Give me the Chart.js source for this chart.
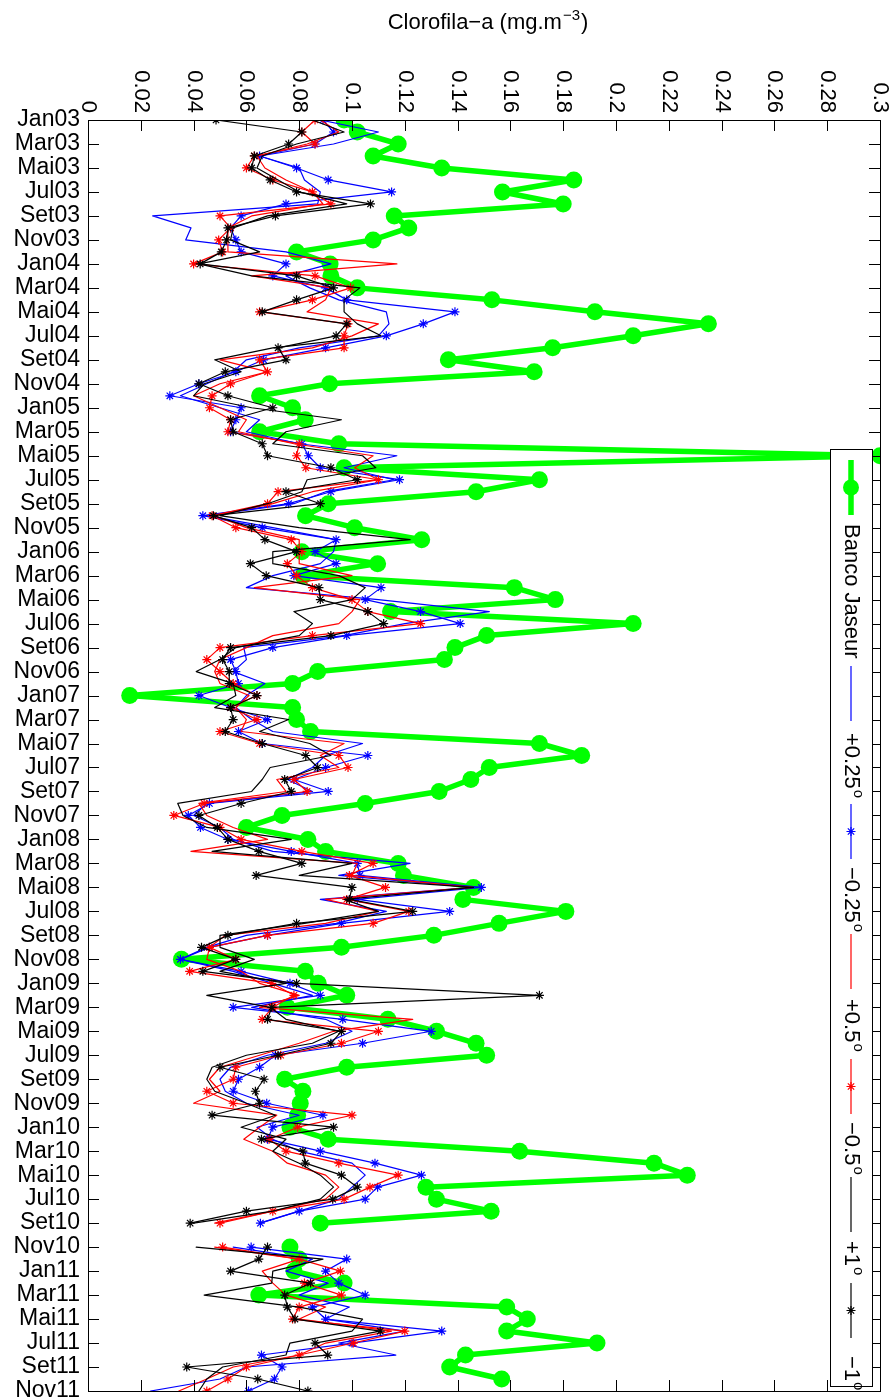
<!DOCTYPE html>
<html><head><meta charset="utf-8">
<script src="https://cdn.jsdelivr.net/npm/chart.js@4/dist/chart.umd.min.js"></script>
<style>html,body{margin:0;padding:0;background:#fff}#wrap{width:892px;height:1400px;position:relative}</style>
</head><body><div id="wrap"><canvas id="c" width="892" height="1400"></canvas></div>
<script>
const monthAbbr = ['Jan','Fev','Mar','Abr','Mai','Jun','Jul','Ago','Set','Out','Nov','Dez'];
const yearCodes = ['03','04','05','06','07','08','09','10','11'];
const categories = [];
yearCodes.forEach(y => monthAbbr.forEach(m => categories.push(m + y)));
categories.length = 107; // Jan03 .. Nov11

const xTickValues = [0,0.02,0.04,0.06,0.08,0.1,0.12,0.14,0.16,0.18,0.2,0.22,0.24,0.26,0.28,0.3];
const xTickLabels = ['0','0.02','0.04','0.06','0.08','0.1','0.12','0.14','0.16','0.18','0.2','0.22','0.24','0.26','0.28','0.3'];

const bancoJaseur = [0.097,0.102,0.1175,0.108,0.134,0.184,0.157,0.180,0.116,0.1215,0.108,0.079,0.0917,0.092,0.102,0.153,0.192,0.235,0.2065,0.176,0.1365,0.169,0.0915,0.065,0.0775,0.0823,0.065,0.095,0.300,0.097,0.171,0.147,0.091,0.0824,0.101,0.1264,0.081,0.1097,0.0814,0.1615,0.177,0.1146,0.2065,0.151,0.139,0.135,0.087,0.0775,0.0158,0.0775,0.079,0.0843,0.171,0.187,0.152,0.145,0.133,0.105,0.0735,0.06,0.0833,0.090,0.1175,0.1195,0.146,0.142,0.181,0.1557,0.131,0.096,0.0354,0.0823,0.0872,0.098,0.0755,0.1136,0.132,0.147,0.151,0.098,0.0745,0.0814,0.0804,0.0794,0.0765,0.091,0.1635,0.2144,0.227,0.128,0.132,0.1527,0.088,null,0.0765,0.080,0.078,0.097,0.0647,0.1586,0.1664,0.1586,0.1928,0.143,0.137,0.1567,null];

const plus025 = [0.088,0.110,0.093,0.065,0.080,0.082,0.088,0.087,0.0245,0.039,0.037,0.075,0.092,0.075,0.084,0.095,0.113,0.114,0.11,0.08,0.06,0.055,0.045,0.035,0.05,0.065,0.06,0.08,0.117,0.097,0.116,0.09,0.078,0.045,0.07,0.094,0.093,0.088,0.07,0.06,0.11,0.152,0.12,0.097,0.059,0.06,0.055,0.067,0.06,0.056,0.062,0.07,0.104,0.09,0.085,0.0755,0.085,0.045,0.04,0.05,0.055,0.07,0.122,0.095,0.146,0.088,0.113,0.094,0.06,0.045,0.035,0.055,0.07,0.085,0.062,0.09,0.1,0.09,0.068,0.054,0.05,0.052,0.06,0.08,0.064,0.07,0.08,0.1,0.105,0.1,0.095,0.08,0.065,null,0.055,0.085,0.075,0.091,0.08,0.099,0.09,0.12,0.095,0.1166,0.06,0.05,0.0237];
const minus025 = [0.089,0.093,0.086,0.065,0.079,0.091,0.115,0.075,0.058,0.054,0.056,0.058,0.075,0.07,0.090,0.098,0.139,0.127,0.113,0.09,0.0665,0.056,0.042,0.031,0.058,0.056,0.054,0.081,0.0835,0.088,0.118,0.092,0.076,0.0435,0.066,0.094,0.086,0.094,0.078,0.111,0.105,0.126,0.141,0.098,0.07,0.054,0.056,0.057,0.042,0.054,0.068,0.057,0.066,0.106,0.09,0.078,0.091,0.046,0.038,0.0426,0.053,0.077,0.102,0.103,0.149,0.102,0.137,0.096,0.068,0.046,0.035,0.058,0.0765,0.088,0.055,0.0965,0.13,0.104,0.071,0.065,0.057,0.055,0.0677,0.089,0.07,0.068,0.088,0.1087,0.1263,0.1097,0.105,0.08,0.0653,null,0.0618,0.098,0.09,0.095,0.105,0.085,0.09,0.134,0.1,0.0657,0.0735,0.0706,0.0608];
const plus05 = [0.088,0.095,0.083,0.064,0.067,0.075,0.085,0.089,0.062,0.053,0.053,0.053,0.117,0.062,0.092,0.09,0.083,0.110,0.1,0.085,0.05,0.068,0.05,0.04,0.05,0.06,0.057,0.078,0.108,0.101,0.11,0.085,0.07,0.048,0.06,0.08,0.08,0.08,0.1,0.063,0.103,0.1,0.095,0.07,0.06,0.05,0.048,0.05,0.061,0.056,0.06,0.058,0.097,0.088,0.095,0.0715,0.075,0.042,0.045,0.055,0.068,0.039,0.102,0.1,0.146,0.09,0.11,0.09,0.052,0.046,0.045,0.058,0.065,0.08,0.065,0.123,0.093,0.08,0.065,0.05,0.046,0.05,0.04,0.0715,0.065,0.059,0.07,0.0755,0.09,0.095,0.09,0.07,0.048,null,0.048,0.08,0.066,0.07,0.075,0.09,0.08,0.115,0.09,0.08,0.055,0.045,0.0344];
const minus05 = [0.086,0.081,0.086,0.063,0.060,0.070,0.085,0.092,0.050,0.054,0.0495,0.051,0.040,0.086,0.0995,0.085,0.065,0.0985,0.097,0.097,0.065,0.068,0.054,0.047,0.046,0.054,0.053,0.080,0.079,0.0825,0.11,0.072,0.068,0.047,0.056,0.077,0.081,0.0755,0.079,0.085,0.10,0.106,0.126,0.085,0.05,0.045,0.050,0.055,0.064,0.054,0.064,0.050,0.065,0.095,0.0985,0.078,0.083,0.044,0.0325,0.05,0.058,0.081,0.108,0.099,0.1127,0.098,0.1215,0.108,0.068,0.046,0.056,0.0385,0.0696,0.078,0.07,0.066,0.11,0.096,0.073,0.056,0.055,0.045,0.055,0.10,0.0794,0.0686,0.075,0.095,0.1175,0.1068,0.097,0.07,0.050,null,0.051,0.08,0.0956,0.082,0.096,0.080,0.0775,0.120,0.1005,0.08,0.06,0.053,0.045];
const plus1 = [0.085,0.097,0.079,0.066,0.064,0.072,0.080,0.098,0.068,0.055,0.054,0.065,0.042,0.062,0.103,0.097,0.097,0.102,0.111,0.07,0.048,0.058,0.044,0.04,0.062,0.096,0.075,0.07,0.104,0.109,0.083,0.081,0.068,0.05,0.08,0.122,0.07,0.07,0.095,0.105,0.1,0.078,0.085,0.08,0.056,0.05,0.041,0.055,0.056,0.048,0.076,0.065,0.084,0.092,0.069,0.066,0.062,0.034,0.036,0.045,0.077,0.047,0.1,0.080,0.146,0.097,0.11,0.082,0.05,0.05,0.063,0.05,0.075,0.045,0.069,0.075,0.095,0.085,0.06,0.047,0.045,0.048,0.06,0.071,0.058,0.075,0.07,0.08,0.088,0.093,0.088,0.07,0.04,null,0.041,0.089,0.07,0.0696,0.044,0.08,0.104,0.1,0.0765,0.075,0.051,0.045,0.042];
const minus1 = [0.0485,0.081,0.076,0.063,0.062,0.069,0.079,0.107,0.071,0.053,0.0525,0.0505,0.0425,0.079,0.093,0.079,0.066,0.098,0.094,0.072,0.075,0.052,0.042,0.053,0.07,0.054,0.055,0.066,0.068,0.092,0.102,0.075,0.088,0.0475,0.062,0.067,0.079,0.0615,0.0675,0.0875,0.088,0.106,0.112,0.092,0.054,0.051,0.0535,0.0535,0.064,0.054,0.055,0.052,0.066,0.0825,0.087,0.0745,0.077,0.058,0.042,0.049,0.053,0.0647,0.081,0.0637,0.10,0.099,0.123,0.079,0.053,0.043,0.056,0.0435,0.079,0.171,0.0696,0.068,0.096,0.092,0.072,0.05,0.0667,0.0634,0.065,0.047,0.093,0.0657,0.0814,0.0823,0.096,0.102,0.0927,0.060,0.0387,null,0.068,0.0647,0.054,0.0843,0.0745,0.0755,0.0784,0.1107,0.086,0.0908,0.0374,0.0643,0.0833];

const FONT = '"Liberation Sans", Arial, Helvetica, sans-serif';
const FS = 22;
const pts = arr => arr.map((v, i) => ({ x: v, y: i }));

function lineDs(label, arr, color, star, order) {
  return {
    label, data: pts(arr), borderColor: color, backgroundColor: color,
    borderWidth: 1.2, tension: 0, spanGaps: false, order,
    borderJoinStyle: 'round', borderCapStyle: 'round',
    pointStyle: star ? 'star' : 'circle',
    pointRadius: star ? 4.5 : 0, pointBorderWidth: 1.2,
    pointBorderColor: color, pointBackgroundColor: color
  };
}

const legendItems = [
  { text: 'Banco Jaseur', sup: '', color: '#00ff00', kind: 'green' },
  { text: '+0.25', sup: 'o', color: '#0000ff', kind: 'line' },
  { text: '\u22120.25', sup: 'o', color: '#0000ff', kind: 'star' },
  { text: '+0.5', sup: 'o', color: '#ff0000', kind: 'line' },
  { text: '\u22120.5', sup: 'o', color: '#ff0000', kind: 'star' },
  { text: '+1', sup: 'o', color: '#000000', kind: 'line' },
  { text: '\u22121', sup: 'o', color: '#000000', kind: 'star' }
];
const legendSampleStart = [460, 666, 804, 934, 1059, 1177, 1283];
const legendTextStart = [524, 733, 867, 999, 1122, 1241, 1356];

function drawStar(ctx, x, y, r) {
  ctx.beginPath();
  for (let k = 0; k < 4; k++) {
    const a = k * Math.PI / 4;
    ctx.moveTo(x - r * Math.cos(a), y - r * Math.sin(a));
    ctx.lineTo(x + r * Math.cos(a), y + r * Math.sin(a));
  }
  ctx.stroke();
}

const decor = {
  id: 'decor',
  afterDatasetsDraw(chart) {
    const ctx = chart.ctx, a = chart.chartArea;
    const xs = chart.scales.x, ys = chart.scales.y;
    ctx.save();
    ctx.strokeStyle = '#000'; ctx.lineWidth = 1;
    ctx.strokeRect(Math.round(a.left) + 0.5, Math.round(a.top) + 0.5, Math.round(a.right - a.left), Math.round(a.bottom - a.top));
    const TL = 11;
    ctx.beginPath();
    xTickValues.forEach(v => {
      const px = Math.round(xs.getPixelForValue(v)) + 0.5;
      ctx.moveTo(px, a.top); ctx.lineTo(px, a.top + TL);
      ctx.moveTo(px, a.bottom); ctx.lineTo(px, a.bottom - TL);
    });
    for (let i = 0; i < categories.length; i += 2) {
      const py = Math.round(ys.getPixelForValue(i)) + 0.5;
      ctx.moveTo(a.left, py); ctx.lineTo(a.left + TL, py);
      ctx.moveTo(a.right, py); ctx.lineTo(a.right - TL, py);
    }
    ctx.stroke();
    ctx.fillStyle = '#000';
    ctx.font = FS + 'px ' + FONT;
    ctx.textAlign = 'right'; ctx.textBaseline = 'middle';
    xTickValues.forEach((v, i) => {
      const px = xs.getPixelForValue(v);
      ctx.save();
      ctx.translate(px, a.top - 7);
      ctx.rotate(Math.PI / 2);
      ctx.fillText(xTickLabels[i], 0, 0);
      ctx.restore();
    });
    const t1 = 'Clorofila\u2212a (mg.m', sup = '\u22123', t2 = ')';
    ctx.textAlign = 'left'; ctx.textBaseline = 'alphabetic';
    ctx.font = FS + 'px ' + FONT;
    const w1 = ctx.measureText(t1).width, w2 = ctx.measureText(t2).width;
    ctx.font = Math.round(FS * 0.7) + 'px ' + FONT;
    const ws = ctx.measureText(sup).width;
    const total = w1 + ws + w2;
    let tx = (a.left + a.right) / 2 - total / 2 + 3;
    const ty = 29;
    ctx.font = FS + 'px ' + FONT;
    ctx.fillText(t1, tx, ty);
    ctx.font = Math.round(FS * 0.7) + 'px ' + FONT;
    ctx.fillText(sup, tx + w1 + 1, ty - 9);
    ctx.font = FS + 'px ' + FONT;
    ctx.fillText(t2, tx + w1 + ws + 2, ty);

    // legend box (rotated)
    const bx0 = 830, bx1 = 872, by0 = 449, by1 = 1386;
    const cx = (bx0 + bx1) / 2;
    const SL = 55;
    ctx.fillStyle = '#fff';
    ctx.fillRect(bx0, by0, bx1 - bx0, by1 - by0);
    ctx.strokeStyle = '#000'; ctx.lineWidth = 1;
    ctx.strokeRect(bx0 + 0.5, by0 + 0.5, bx1 - bx0, by1 - by0);
    legendItems.forEach((it, k) => {
      const s0 = legendSampleStart[k], s1 = s0 + SL, t0 = legendTextStart[k];
      ctx.strokeStyle = it.color;
      ctx.lineWidth = it.kind === 'green' ? 5.5 : 1.2;
      ctx.beginPath(); ctx.moveTo(cx, s0); ctx.lineTo(cx, s1); ctx.stroke();
      const mid = (s0 + s1) / 2;
      if (it.kind === 'green') {
        ctx.fillStyle = it.color;
        ctx.beginPath(); ctx.arc(cx, mid, 8, 0, Math.PI * 2); ctx.fill();
      } else if (it.kind === 'star') {
        ctx.lineWidth = 1.2; drawStar(ctx, cx, mid, 4.5);
      }
      ctx.save();
      ctx.translate(cx, t0);
      ctx.rotate(Math.PI / 2);
      ctx.fillStyle = '#000';
      ctx.textAlign = 'left'; ctx.textBaseline = 'middle';
      ctx.font = FS + 'px ' + FONT;
      const tw = ctx.measureText(it.text).width;
      ctx.fillText(it.text, 0, 0);
      if (it.sup) {
        ctx.font = Math.round(FS * 0.68) + 'px ' + FONT;
        ctx.fillText(it.sup, tw + 1, -7);
      }
      ctx.restore();
    });
    ctx.restore();
  }
};

new Chart(document.getElementById('c'), {
  type: 'line',
  data: {
    datasets: [
      { label: 'Banco Jaseur', data: pts(bancoJaseur), borderColor: '#00ff00', backgroundColor: '#00ff00',
        borderWidth: 5.5, tension: 0, spanGaps: false, order: 7, borderJoinStyle: 'round', borderCapStyle: 'round',
        pointStyle: 'circle', pointRadius: 8.5,
        pointBorderWidth: 0, pointBackgroundColor: '#00ff00', pointBorderColor: '#00ff00' },
      lineDs('+0.25', plus025, '#0000ff', false, 6),
      lineDs('-0.25', minus025, '#0000ff', true, 5),
      lineDs('+0.5', plus05, '#ff0000', false, 4),
      lineDs('-0.5', minus05, '#ff0000', true, 3),
      lineDs('+1', plus1, '#000000', false, 2),
      lineDs('-1', minus1, '#000000', true, 1)
    ]
  },
  options: {
    responsive: false, animation: false, indexAxis: 'y',
    layout: { padding: { left: 0, top: 0, right: 12, bottom: 9 } },
    plugins: { legend: { display: false }, title: { display: false }, tooltip: { enabled: false } },
    scales: {
      x: {
        type: 'linear', position: 'top', min: 0, max: 0.3,
        ticks: { display: false, stepSize: 0.02 },
        grid: { display: false, drawTicks: false }, border: { display: false },
        afterFit(s) { s.height = 120; s.paddingLeft = 0; s.paddingRight = 0; }
      },
      y: {
        type: 'linear', reverse: true, min: 0, max: categories.length - 1,
        afterBuildTicks(s) {
          const t = [];
          for (let i = 0; i < categories.length; i += 2) t.push({ value: i });
          s.ticks = t;
        },
        ticks: { autoSkip: false, padding: 8, color: '#000', font: { family: FONT, size: 23 },
          callback: v => categories[v] },
        grid: { display: false, drawTicks: false }, border: { display: false },
        afterFit(s) { s.width = 88; s.paddingTop = 0; s.paddingBottom = 0; }
      }
    }
  },
  plugins: [decor]
});
</script>
</body></html>
